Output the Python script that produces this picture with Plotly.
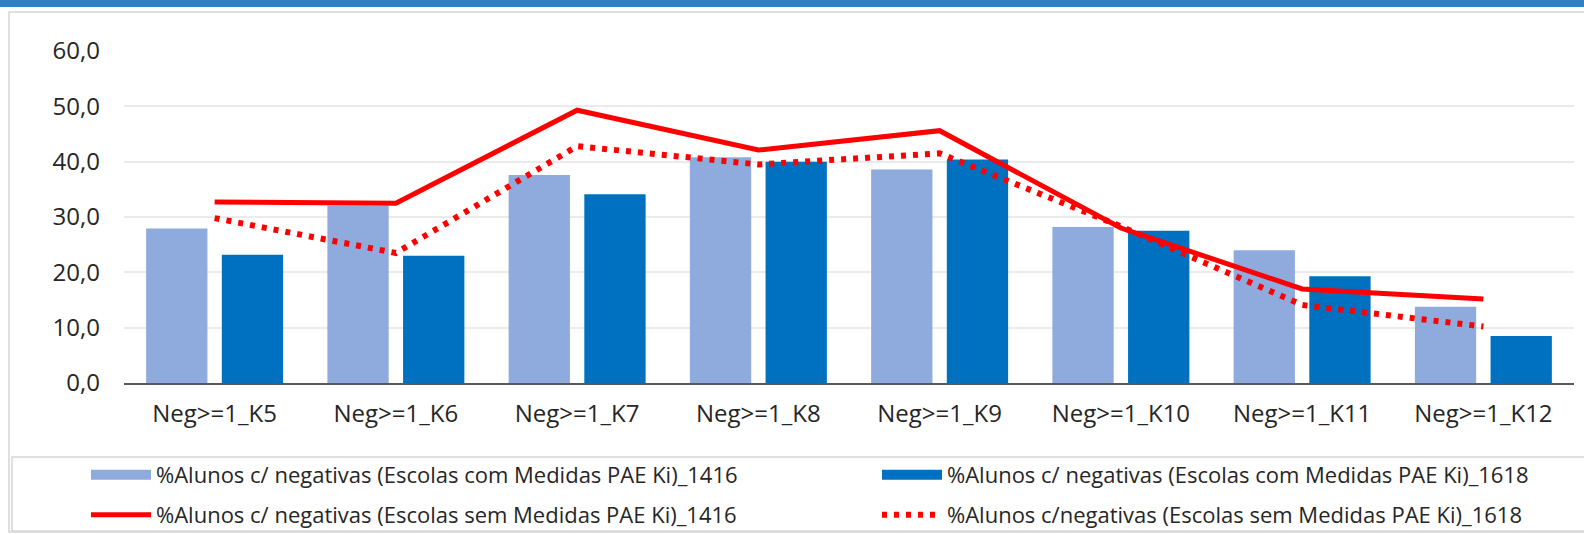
import plotly.graph_objects as go

categories = ["Neg>=1_K5", "Neg>=1_K6", "Neg>=1_K7", "Neg>=1_K8",
              "Neg>=1_K9", "Neg>=1_K10", "Neg>=1_K11", "Neg>=1_K12"]

com_1416 = [27.9, 32.1, 37.6, 40.8, 38.6, 28.2, 24.0, 13.8]
com_1618 = [23.2, 23.0, 34.1, 40.0, 40.4, 27.5, 19.3, 8.5]
sem_1416 = [32.7, 32.5, 49.3, 42.1, 45.6, 28.0, 17.0, 15.2]
sem_1618 = [29.8, 23.5, 42.8, 39.5, 41.5, 28.3, 14.1, 10.2]

name_c1416 = "%Alunos c/ negativas (Escolas com Medidas PAE Ki)_1416"
name_c1618 = "%Alunos c/ negativas (Escolas com Medidas PAE Ki)_1618"
name_s1416 = "%Alunos c/ negativas (Escolas sem Medidas PAE Ki)_1416"
name_s1618 = "%Alunos c/negativas (Escolas sem Medidas PAE Ki)_1618"

y_ticks = [0, 10, 20, 30, 40, 50, 60]

FONT = "Open Sans"
W, H = 1584, 534
L, R, T, B = 124, 10, 51, 151
PW, PH = W - L - R, H - T - B

LIGHT, DARK, RED = "#8FAADC", "#0070C0", "#FF0000"


def px(x):
    return (x - L) / PW


def py(y):
    return (H - B - y) / PH


fig = go.Figure()
fig.add_trace(go.Bar(x=categories, y=com_1416, name=name_c1416,
                     marker=dict(color=LIGHT, line=dict(width=0)),
                     legendgroup="c1416", showlegend=False))
fig.add_trace(go.Bar(x=categories, y=com_1618, name=name_c1618,
                     marker=dict(color=DARK, line=dict(width=0)),
                     legendgroup="c1618", showlegend=False))
# legend keys for the bar series (wide rectangle swatches, as in the original)
fig.add_trace(go.Scatter(x=[None], y=[None], name=name_c1416, mode="lines",
                         line=dict(color=LIGHT, width=13),
                         legendgroup="c1416", legend="legend", hoverinfo="skip"))
fig.add_trace(go.Scatter(x=[None], y=[None], name=name_c1618, mode="lines",
                         line=dict(color=DARK, width=13),
                         legendgroup="c1618", legend="legend2", hoverinfo="skip"))
fig.add_trace(go.Scatter(x=categories, y=sem_1416, name=name_s1416, mode="lines",
                         line=dict(color=RED, width=5),
                         legend="legend3"))
fig.add_trace(go.Scatter(x=categories, y=sem_1618, name=name_s1618, mode="lines",
                         line=dict(color=RED, width=6, dash="5px,7px"),
                         legend="legend4"))

legend_common = dict(orientation="h", xanchor="left", yanchor="middle",
                     font=dict(family=FONT, size=22, color="#262626"),
                     bgcolor="rgba(0,0,0,0)", borderwidth=0,
                     itemwidth=60, traceorder="normal", groupclick="togglegroup")

TEXT_OFF = 70  # distance from legend left to text start
fig.update_layout(
    width=W, height=H,
    margin=dict(l=L, r=R, t=T, b=B, autoexpand=False),
    paper_bgcolor="white", plot_bgcolor="white",
    separators=",.",
    barmode="group", bargap=0.165, bargroupgap=0.19,
    font=dict(family=FONT, size=22, color="#262626"),
    showlegend=True,
    legend=dict(x=px(156 - TEXT_OFF), y=py(475), **legend_common),
    legend2=dict(x=px(947 - TEXT_OFF), y=py(475), **legend_common),
    legend3=dict(x=px(156 - TEXT_OFF), y=py(515), **legend_common),
    legend4=dict(x=px(947 - TEXT_OFF), y=py(515), **legend_common),
    xaxis=dict(showline=True, linecolor="#595959", linewidth=2,
               showgrid=False, ticks="", ticklabelstandoff=8,
               automargin=False,
               tickfont=dict(family=FONT, size=24, color="#262626")),
    yaxis=dict(range=[0, 60], tickvals=y_ticks, tickformat=".1f",
               showgrid=True, gridcolor="#EBEBEB", gridwidth=2,
               zeroline=False, showline=False, ticks="",
               ticklabelstandoff=23, automargin=False,
               tickfont=dict(family=FONT, size=24, color="#262626")),
    shapes=[
        dict(type="rect", xref="paper", yref="paper",
             x0=px(-5), x1=px(W + 5), y0=py(-2), y1=py(7),
             fillcolor="#2E7FC4", line=dict(width=0), layer="above"),
        dict(type="rect", xref="paper", yref="paper",
             x0=px(9), x1=px(W + 10), y0=py(12), y1=py(532),
             fillcolor="rgba(0,0,0,0)", line=dict(color="#D6D6D6", width=1.5),
             layer="below"),
        dict(type="rect", xref="paper", yref="paper",
             x0=px(12), x1=px(W + 10), y0=py(457), y1=py(531),
             fillcolor="rgba(0,0,0,0)", line=dict(color="#D6D6D6", width=1.5),
             layer="below"),
    ],
)

fig.write_html("out.html",
               config={"displayModeBar": False},
               post_script="document.body.style.margin='0';"
                           "document.body.style.overflow='hidden';")
